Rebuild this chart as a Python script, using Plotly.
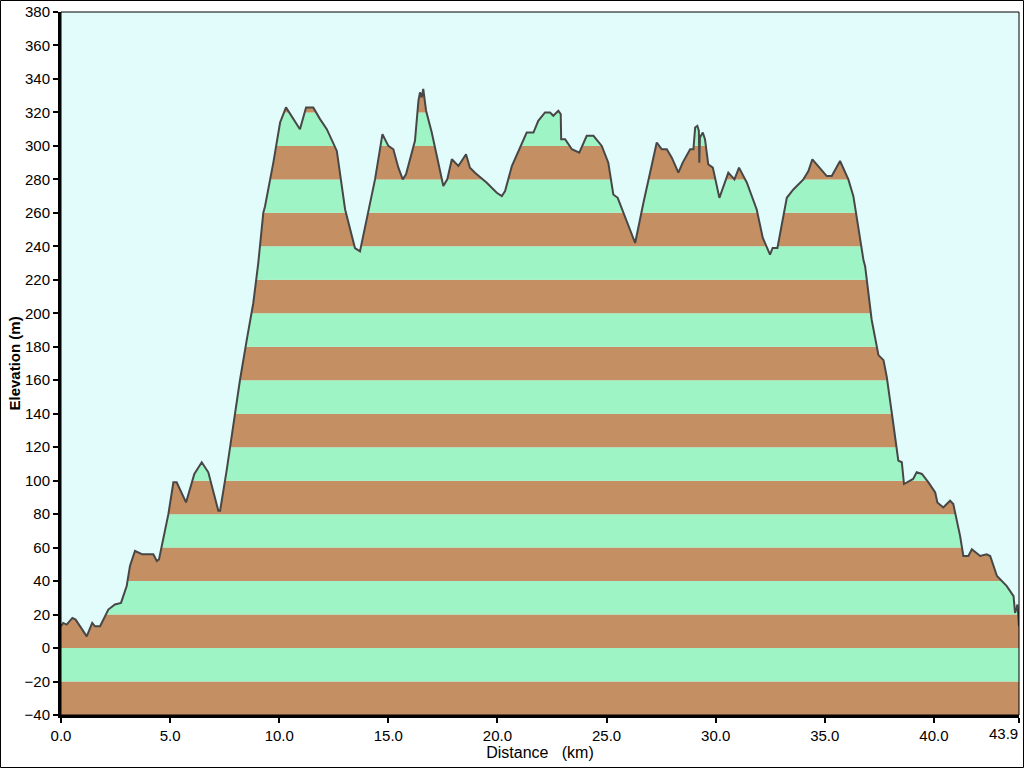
import plotly.graph_objects as go

distance_km = [
    0.00, 0.10, 0.26, 0.52, 0.67, 0.82, 1.18, 1.43, 1.56, 1.79, 2.17, 2.47, 2.75, 3.01, 3.16, 3.39,
    3.73, 4.23, 4.39, 4.49, 4.69, 4.92, 5.15, 5.30, 5.73, 6.11, 6.45, 6.75, 7.21, 7.29, 7.59, 7.90,
    8.20, 8.51, 8.81, 9.04, 9.27, 9.35, 9.73, 10.04, 10.31, 10.95, 11.23, 11.56, 11.87, 12.18, 12.64,
    13.02, 13.47, 13.70, 14.39, 14.73, 15.00, 15.23, 15.46, 15.66, 15.81, 16.22, 16.38, 16.45, 16.53,
    16.60, 16.73, 16.99, 17.45, 17.52, 17.70, 17.91, 18.21, 18.56, 18.74, 18.97, 19.51, 19.97, 20.20,
    20.35, 20.66, 21.34, 21.65, 21.87, 22.18, 22.41, 22.56, 22.79, 22.90, 22.92, 23.10, 23.41, 23.75,
    24.09, 24.40, 24.78, 25.08, 25.31, 25.51, 26.31, 26.69, 27.30, 27.53, 27.76, 27.99, 28.29, 28.49,
    28.83, 28.98, 29.06, 29.16, 29.23, 29.25, 29.28, 29.41, 29.51, 29.66, 29.87, 30.17, 30.58, 30.86,
    31.07, 31.43, 31.88, 32.16, 32.49, 32.61, 32.83, 33.26, 33.56, 34.02, 34.25, 34.43, 34.78, 35.09,
    35.32, 35.70, 36.08, 36.31, 36.77, 36.85, 37.15, 37.46, 37.69, 37.84, 38.14, 38.37, 38.53, 38.63,
    39.05, 39.21, 39.45, 39.75, 40.06, 40.16, 40.43, 40.74, 40.89, 41.20, 41.35, 41.58, 41.74, 42.12,
    42.42, 42.58, 42.89, 43.34, 43.65, 43.72, 43.83, 43.90,
]
elevation_m = [
    13, 15, 14, 18, 17, 14, 7, 15, 13, 13, 23, 26, 27, 37, 49, 58,
    56, 56, 52, 53, 65, 80, 99, 99, 87, 104, 111, 105, 82, 82, 106, 134,
    160, 184, 206, 230, 260, 264, 290, 314, 323, 310, 323, 323, 316, 310, 297,
    262, 239, 237, 280, 307, 300, 298, 287, 280, 283, 303, 327, 332, 329,
    334, 321, 308, 280, 276, 280, 292, 288, 295, 287, 284, 278, 272, 270,
    273, 288, 308, 308, 315, 320, 320, 318, 321, 319, 304, 304, 298, 296,
    306, 306, 300, 290, 271, 269, 242, 266, 302, 298, 298, 293, 284, 290,
    298, 298, 311, 312, 309, 290, 305, 308, 304, 289, 287, 269, 284, 280,
    287, 278, 262, 245, 235, 239, 239, 269, 274, 280, 285, 292, 287, 282,
    282, 291, 280, 270, 232, 228, 196, 175, 172, 162, 134, 112, 111, 98,
    101, 105, 104, 99, 93, 87, 84, 88, 86, 67, 55, 55, 59, 55,
    56, 55, 43, 37, 31, 21, 26, 13,
]

x_tick_values = [0, 5, 10, 15, 20, 25, 30, 35, 40, 43.9]
x_tick_labels = ["0.0", "5.0", "10.0", "15.0", "20.0", "25.0", "30.0", "35.0", "40.0", ""]
x_end_label = "43.9"
y_min, y_max, band = -40, 380, 20

BG = "#e2fbfb"
BROWN = "#c48f63"
GREEN = "#9ef4c4"
LINE = "#474747"

shapes = []
lo = y_min
i = 0
while lo < y_max:
    shapes.append(dict(type="rect", xref="paper", yref="y", x0=0, x1=1, y0=lo, y1=lo + band,
                       fillcolor=BROWN if i % 2 == 0 else GREEN, line=dict(width=0), layer="below"))
    lo += band
    i += 1

# outer frame around whole image
W, H = 1024, 768
ml, mr, mt, mb = 61, 5, 12, 53
pw, ph = W - ml - mr, H - mt - mb
shapes.append(dict(type="rect", xref="paper", yref="paper",
                   x0=(-ml + 0.5) / pw, x1=1 + (mr - 0.5) / pw,
                   y0=(-mb + 0.5) / ph, y1=1 + (mt - 0.5) / ph,
                   line=dict(color="black", width=1), fillcolor="rgba(0,0,0,0)", layer="above"))
# thin top/right frame of the plot area
shapes.append(dict(type="rect", xref="paper", yref="paper", x0=0, x1=1, y0=0, y1=1,
                   line=dict(color="black", width=1), fillcolor="rgba(0,0,0,0)", layer="above"))

fig = go.Figure()
fig.add_trace(go.Scatter(x=distance_km, y=[y_max] * len(distance_km), mode="lines",
                         line=dict(width=0), hoverinfo="skip", showlegend=False))
fig.add_trace(go.Scatter(x=distance_km, y=elevation_m, mode="lines", fill="tonexty",
                         fillcolor=BG, line=dict(color=LINE, width=2), showlegend=False))

font = dict(family="Liberation Sans, Arial, sans-serif", size=16, color="black")
tick_font = dict(family="Liberation Sans, Arial, sans-serif", size=15, color="black")
annotations = [
    dict(text="<b>Elevation (m)</b>", textangle=-90, xref="paper", yref="paper",
         x=(14 - ml) / pw, y=0.5, xanchor="center", yanchor="middle", showarrow=False,
         font=dict(family="Liberation Sans, Arial, sans-serif", size=15, color="black")),
    dict(text=x_end_label, xref="paper", yref="paper", x=1 + 1 / pw, y=-(733 - (H - mb)) / ph,
         xanchor="right", yanchor="middle", showarrow=False, font=tick_font),
]

fig.update_layout(
    width=W, height=H, autosize=False,
    margin=dict(l=ml, r=mr, t=mt, b=mb, pad=0, autoexpand=False),
    paper_bgcolor="white", plot_bgcolor=BG,
    shapes=shapes, annotations=annotations, font=font,
    xaxis=dict(range=[0, 43.9], tickvals=x_tick_values, ticktext=x_tick_labels, automargin=False,
               showgrid=False, zeroline=False, showline=True, linecolor="black", linewidth=3,
               ticks="outside", ticklen=5, tickwidth=2, tickcolor="black", tickfont=tick_font,
               title=dict(text="Distance\u00a0\u00a0\u00a0(km)", font=font, standoff=2)),
    yaxis=dict(range=[y_min, y_max], dtick=20, tick0=0, automargin=False,
               showgrid=False, zeroline=False, showline=True, linecolor="black", linewidth=3,
               ticks="outside", ticklen=5, tickwidth=2, tickcolor="black", tickfont=tick_font),
)

fig.write_html(
    "out.html",
    config={"responsive": False, "displayModeBar": False},
    post_script="document.body.style.margin='0';document.body.style.padding='0';"
                "document.body.style.overflow='hidden';",
)
